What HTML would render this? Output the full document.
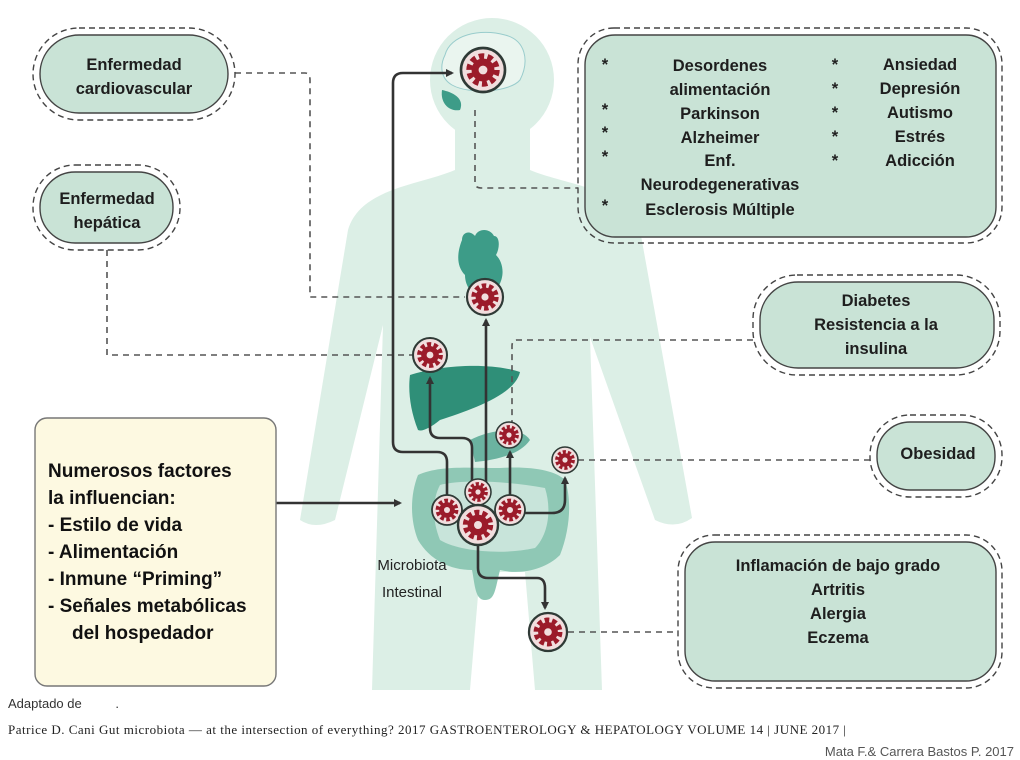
<!DOCTYPE html>
<html><head><meta charset="utf-8"><style>
html,body{margin:0;padding:0;background:#fff;}
svg{display:block;font-family:"Liberation Sans",sans-serif;}
.t{font-size:16.5px;font-weight:bold;fill:#1e1e1e;text-anchor:middle;}
.d{fill:none;stroke:#555;stroke-width:1.6;stroke-dasharray:6 5;}
.a{fill:none;stroke:#333;stroke-width:2.6;}
</style></head><body>
<svg width="1020" height="760" viewBox="0 0 1020 760" xmlns="http://www.w3.org/2000/svg">
<defs>
<g id="gear">
<circle r="1" fill="#f1dede" stroke="#2f3a36" stroke-width="0.12"/>
<circle r="0.62" fill="none" stroke="#9b1b2a" stroke-width="0.28" stroke-dasharray="0.24 0.15"/>
<circle r="0.52" fill="#9b1b2a"/>
<circle r="0.2" fill="#f1dede"/>
</g>
<marker id="ar" markerWidth="8" markerHeight="8" refX="6" refY="4" orient="auto" markerUnits="userSpaceOnUse"><path d="M0,0 L8,4 L0,8 z" fill="#333"/></marker>
</defs>
<!-- body silhouette -->
<g fill="#dcefe6">
<ellipse cx="492" cy="80" rx="62" ry="62"/>
<path d="M455,125 L455,170 C420,185 360,188 348,230 L300,520 Q315,530 335,520 L383,325 L372,690 L470,690 L480,572 L525,572 L535,690 L602,690 L590,337 L655,520 Q675,530 692,518 L640,230 C628,188 565,185 530,170 L530,125 Z"/>
</g>
<!-- organs -->
<path d="M462,240 C462,232 470,230 475,236 C478,228 490,228 494,236 C500,236 500,248 496,255 C506,265 505,285 490,295 C478,302 465,290 465,275 C455,265 458,250 462,240 Z" fill="#3d9c88"/>
<path d="M410,375 C440,365 490,362 520,372 C515,395 470,410 440,420 C430,428 422,432 418,430 C410,410 408,390 410,375 Z" fill="#2f8f78"/>
<path d="M470,440 C490,430 520,425 530,440 C520,455 495,460 475,462 Z" fill="#6bb3a0"/>
<path d="M418,475 C440,465 470,468 500,468 C530,466 555,470 565,480 C572,500 570,530 560,555 C545,570 520,575 500,570 C495,590 495,600 485,600 C475,600 475,585 472,570 C450,570 430,560 418,540 C410,520 410,495 418,475 Z" fill="#8fc8b5"/>
<path d="M440,485 C460,480 500,480 545,488 C552,510 548,535 535,548 C505,555 460,552 440,540 C432,520 432,500 440,485 Z" fill="#c8e4da"/>
<!-- brain -->
<path d="M445,55 C450,35 480,28 505,35 C525,40 530,60 520,80 C510,92 470,95 452,85 C440,78 440,65 445,55 Z" fill="#eaf5ef" stroke="#9cc" stroke-width="1"/>
<path d="M442,90 C452,92 465,98 460,110 C450,112 440,104 442,90 Z" fill="#3d9c88"/>
<!-- dashed connectors -->
<path class="d" d="M235,73 H305 Q310,73 310,80 V297 H465"/>
<path class="d" d="M107,250 V355 H412"/>
<path class="d" d="M475,110 V183 Q475,188 482,188 H578"/>
<path class="d" d="M753,340 H517 Q512,340 512,346 V423"/>
<path class="d" d="M578,460 H870"/>
<path class="d" d="M568,632 H678"/>
<!-- solid arrows -->
<path class="a" d="M276,503 H400" marker-end="url(#ar)"/>
<path class="a" d="M447,495 V462 Q447,452 437,452 H403 Q393,452 393,442 V83 Q393,73 403,73 H452" marker-end="url(#ar)"/>
<path class="a" d="M472,482 V448 Q472,438 462,438 H440 Q430,438 430,428 V378" marker-end="url(#ar)"/>
<path class="a" d="M486,482 V320" marker-end="url(#ar)"/>
<path class="a" d="M510,496 V452" marker-end="url(#ar)"/>
<path class="a" d="M525,513 H552 Q565,513 565,500 V478" marker-end="url(#ar)"/>
<path class="a" d="M478,545 V568 Q478,578 488,578 H537 Q545,578 545,588 V608" marker-end="url(#ar)"/>
<!-- gears -->
<use href="#gear" transform="translate(483,70) scale(22)"/>
<use href="#gear" transform="translate(485,297) scale(18)"/>
<use href="#gear" transform="translate(430,355) scale(17)"/>
<use href="#gear" transform="translate(509,435) scale(13)"/>
<use href="#gear" transform="translate(565,460) scale(13)"/>
<use href="#gear" transform="translate(478,492) scale(13)"/>
<use href="#gear" transform="translate(447,510) scale(15)"/>
<use href="#gear" transform="translate(510,510) scale(15)"/>
<use href="#gear" transform="translate(478,525) scale(20)"/>
<use href="#gear" transform="translate(548,632) scale(19)"/>
<!-- boxes -->
<g stroke="#444" stroke-width="1.4">
<rect x="33" y="28" width="202" height="92" rx="46" fill="none" stroke-dasharray="6 4"/>
<rect x="40" y="35" width="188" height="78" rx="39" fill="#c9e3d6"/>
<rect x="33" y="165" width="147" height="85" rx="42" fill="none" stroke-dasharray="6 4"/>
<rect x="40" y="172" width="133" height="71" rx="35" fill="#c9e3d6"/>
<rect x="578" y="28" width="424" height="215" rx="36" fill="none" stroke-dasharray="6 4"/>
<rect x="585" y="35" width="411" height="202" rx="30" fill="#c9e3d6"/>
<rect x="753" y="275" width="247" height="100" rx="44" fill="none" stroke-dasharray="6 4"/>
<rect x="760" y="282" width="234" height="86" rx="38" fill="#c9e3d6"/>
<rect x="870" y="415" width="132" height="82" rx="40" fill="none" stroke-dasharray="6 4"/>
<rect x="877" y="422" width="118" height="68" rx="33" fill="#c9e3d6"/>
<rect x="678" y="535" width="324" height="153" rx="36" fill="none" stroke-dasharray="6 4"/>
<rect x="685" y="542" width="311" height="139" rx="30" fill="#c9e3d6"/>
<rect x="35" y="418" width="241" height="268" rx="12" fill="#fdf9e1" stroke="#777"/>
</g>
<!-- texts -->
<text class="t" x="134" y="70">Enfermedad</text>
<text class="t" x="134" y="94">cardiovascular</text>
<text class="t" x="107" y="204">Enfermedad</text>
<text class="t" x="107" y="228">hepática</text>
<g class="t">
<text x="720" y="71">Desordenes</text><text x="720" y="95">alimentación</text>
<text x="720" y="119">Parkinson</text><text x="720" y="143">Alzheimer</text>
<text x="720" y="166">Enf.</text><text x="720" y="190">Neurodegenerativas</text>
<text x="720" y="215">Esclerosis Múltiple</text>
<text x="920" y="70">Ansiedad</text><text x="920" y="94">Depresión</text>
<text x="920" y="118">Autismo</text><text x="920" y="142">Estrés</text><text x="920" y="166">Adicción</text>
<text x="605" y="70">*</text><text x="605" y="115">*</text><text x="605" y="138">*</text><text x="605" y="162">*</text><text x="605" y="211">*</text>
<text x="835" y="70">*</text><text x="835" y="94">*</text><text x="835" y="118">*</text><text x="835" y="142">*</text><text x="835" y="166">*</text>
<text x="876" y="306">Diabetes</text><text x="876" y="330">Resistencia a la</text><text x="876" y="354">insulina</text>
<text x="938" y="459">Obesidad</text>
<text x="838" y="571">Inflamación de bajo grado</text><text x="838" y="595">Artritis</text>
<text x="838" y="619">Alergia</text><text x="838" y="643">Eczema</text>
</g>
<g font-size="15" fill="#222" text-anchor="middle">
<text x="412" y="570">Microbiota</text><text x="412" y="597">Intestinal</text>
</g>
<g font-size="19" font-weight="bold" fill="#111">
<text x="48" y="477">Numerosos factores</text>
<text x="48" y="504">la influencian:</text>
<text x="48" y="531">-  Estilo de vida</text>
<text x="48" y="558">-  Alimentación</text>
<text x="48" y="585">-  Inmune “Priming”</text>
<text x="48" y="612">-  Señales metabólicas</text>
<text x="72" y="639">del hospedador</text>
</g>
<text x="8" y="708" font-size="13" fill="#333">Adaptado de <tspan dx="30">.</tspan></text>
<text x="8" y="734" font-size="13" fill="#222" font-family="Liberation Serif,serif" textLength="838">Patrice D. Cani Gut microbiota — at the intersection  of everything? 2017 GASTROENTEROLOGY &amp; HEPATOLOGY  VOLUME 14 | JUNE 2017 |</text>
<text x="1014" y="756" font-size="13" fill="#555" text-anchor="end">Mata F.&amp; Carrera Bastos P. 2017</text>
</svg>
</body></html>
